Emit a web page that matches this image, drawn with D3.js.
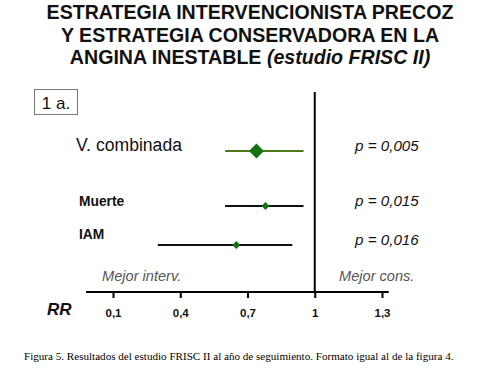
<!DOCTYPE html>
<html>
<head>
<meta charset="utf-8">
<script src="https://cdn.jsdelivr.net/npm/d3@7"></script>
<style>
  body { margin: 0; background: #fff; }
  svg { display: block; font-family: Arial, "Liberation Sans", sans-serif; }
</style>
</head>
<body>
<svg id="chart" width="500" height="375"></svg>
<script>
// data
const categories = ["V. combinada", "Muerte", "IAM"];
const rrValues = [0.74, 0.78, 0.65];
const lowerCI = [0.60, 0.60, 0.30];
const upperCI = [0.95, 0.95, 0.90];
const pValues = ["p = 0,005", "p = 0,015", "p = 0,016"];
const tickValues = [0.1, 0.4, 0.7, 1, 1.3];
const tickLabels = ["0,1", "0,4", "0,7", "1", "1,3"];

const titleLines = ["ESTRATEGIA INTERVENCIONISTA PRECOZ", "Y ESTRATEGIA CONSERVADORA EN LA"];

// layout
const rowY = [151, 206, 245];
const axisY = 292;

const svg = d3.select("#chart");

var x = d3.scaleLinear()
    .domain([0.1, 1.3])
    .range([113, 382]);

// title
const title = svg.append("g")
    .attr("text-anchor", "middle")
    .attr("font-weight", "bold")
    .attr("font-size", 19.6)
    .attr("fill", "#111");

titleLines.forEach(function(t, i) {
  title.append("text").attr("x", 250).attr("y", 19 + i * 22.5).text(t);
});
const last = title.append("text").attr("x", 250).attr("y", 64);
last.append("tspan").text("ANGINA INESTABLE ");
last.append("tspan").attr("font-style", "italic").text("(estudio FRISC II)");

// panel label
svg.append("rect")
    .attr("x", 34.5).attr("y", 89.5)
    .attr("width", 43).attr("height", 25)
    .attr("fill", "none").attr("stroke", "#777");
svg.append("text")
    .attr("x", 56).attr("y", 109)
    .attr("text-anchor", "middle")
    .attr("font-size", 17)
    .attr("fill", "#111")
    .text("1 a.");

// axis
const axis = svg.append("g")
    .attr("transform", "translate(0," + axisY + ")")
    .call(d3.axisBottom(x)
      .tickValues(tickValues)
      .tickFormat(function(d, i) { return tickLabels[i]; })
      .tickSize(6)
      .tickPadding(11));

axis.select(".domain").remove();
axis.selectAll(".tick line").attr("stroke", "#000").attr("stroke-width", 2);
axis.selectAll(".tick text")
    .attr("font-family", "Arial, 'Liberation Sans', sans-serif")
    .attr("font-size", 11.5)
    .attr("font-weight", "bold")
    .attr("fill", "#111");

svg.append("line")
    .attr("x1", x(-0.02)).attr("x2", x(1.33))
    .attr("y1", axisY).attr("y2", axisY)
    .attr("stroke", "#000").attr("stroke-width", 2);

// line of no effect
svg.append("line")
    .attr("x1", x(1)).attr("x2", x(1))
    .attr("y1", 92).attr("y2", axisY)
    .attr("stroke", "#000").attr("stroke-width", 2);

svg.append("text")
    .attr("x", 47).attr("y", 315)
    .attr("font-size", 17)
    .attr("font-weight", "bold")
    .attr("font-style", "italic")
    .attr("fill", "#111")
    .text("RR");

svg.append("text")
    .attr("x", 102).attr("y", 281)
    .attr("font-size", 14.6)
    .attr("font-style", "italic")
    .attr("fill", "#555")
    .text("Mejor interv.");
svg.append("text")
    .attr("x", 339).attr("y", 281)
    .attr("font-size", 14.6)
    .attr("font-style", "italic")
    .attr("fill", "#555")
    .text("Mejor cons.");

// rows
const rows = svg.selectAll(".row")
    .data(categories)
    .enter().append("g")
    .attr("class", "row");

rows.append("text")
    .attr("x", function(d, i) { return i == 0 ? 76 : 79; })
    .attr("y", function(d, i) { return i == 2 ? rowY[i] - 6 : rowY[i]; })
    .attr("font-size", function(d, i) { return i == 0 ? 17.6 : 13.8; })
    .attr("font-weight", function(d, i) { return i == 0 ? "normal" : "bold"; })
    .attr("fill", "#111")
    .text(function(d) { return d; });

rows.append("line")
    .attr("x1", function(d, i) { return x(lowerCI[i]); })
    .attr("x2", function(d, i) { return x(upperCI[i]); })
    .attr("y1", function(d, i) { return rowY[i]; })
    .attr("y2", function(d, i) { return rowY[i]; })
    .attr("stroke", function(d, i) { return i == 0 ? "#4e7a1a" : "#111"; })
    .attr("stroke-width", 2);

rows.append("path")
    .attr("d", function(d, i) {
      var s = i == 0 ? 7.5 : 4;
      return "M0," + (-s) + "L" + s + ",0L0," + s + "L" + (-s) + ",0Z";
    })
    .attr("transform", function(d, i) { return "translate(" + x(rrValues[i]) + "," + rowY[i] + ")"; })
    .attr("fill", "#137313");

rows.append("text")
    .attr("x", 355)
    .attr("y", function(d, i) { return rowY[i]; })
    .attr("font-size", 15.2)
    .attr("font-style", "italic")
    .attr("fill", "#111")
    .text(function(d, i) { return pValues[i]; });

// caption
svg.append("text")
    .attr("x", 24).attr("y", 360)
    .attr("font-family", "'Liberation Serif', 'Times New Roman', serif")
    .attr("font-size", 11.1)
    .attr("fill", "#000")
    .text("Figura 5. Resultados del estudio FRISC II al año de seguimiento. Formato igual al de la figura 4.");
</script>
</body>
</html>
